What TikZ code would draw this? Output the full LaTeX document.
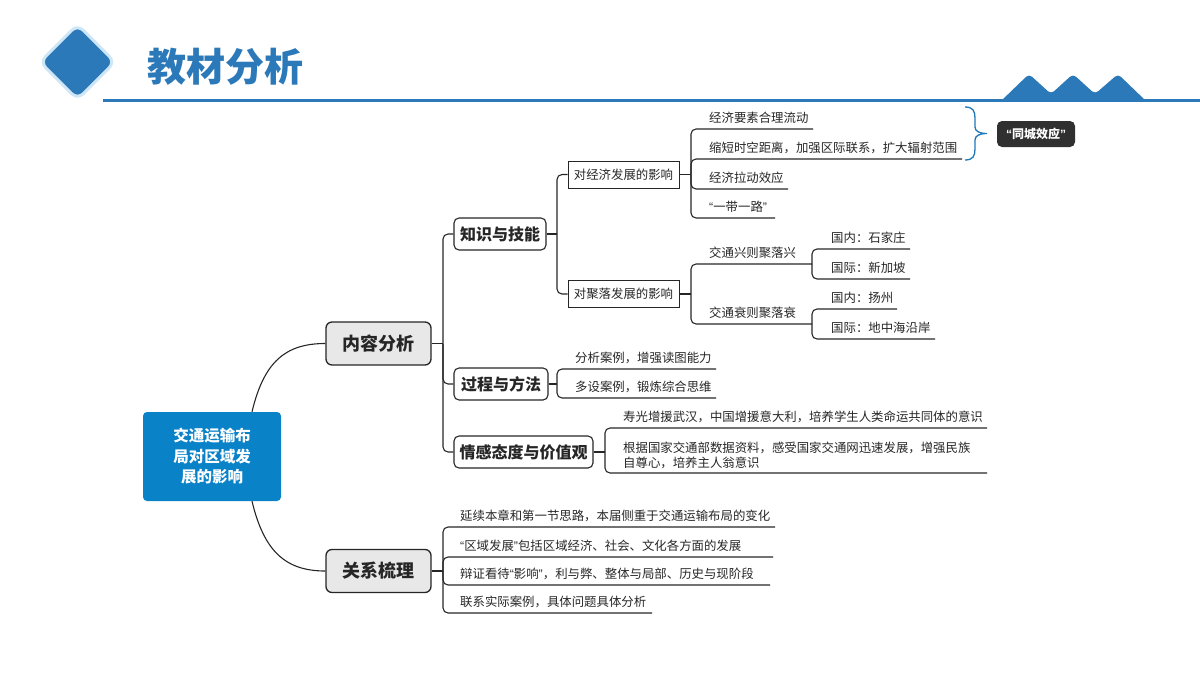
\documentclass[tikz,border=0pt]{standalone}
\usepackage{fontspec}
\setmainfont{Noto Sans CJK SC}
\newfontfamily\qfont{Liberation Sans}
\newcommand{\qopen}{{\qfont “}}
\newcommand{\qclose}{{\qfont ”}}
\usetikzlibrary{calc}
\definecolor{hblue}{HTML}{2B79B8}
\definecolor{hlight}{HTML}{CFE6F6}
\definecolor{cblue}{HTML}{0A82C8}
\definecolor{bgray}{HTML}{E8E8E8}
\definecolor{ink}{HTML}{262626}
\definecolor{brblue}{HTML}{1E78B8}
\definecolor{darkbox}{HTML}{303030}
\begin{document}
\begin{tikzpicture}[x=1pt,y=-1pt,
 br/.style={draw=ink,line width=1.1pt,rounded corners=5pt},
 leaf/.style={anchor=base west,inner sep=0pt,font=\fontsize{12.4}{15}\selectfont,text=ink},
 lvlone/.style={draw=ink,fill=bgray,line width=1.3pt,rounded corners=6pt,minimum width=105pt,minimum height=43pt,inner sep=0pt,font=\bfseries\fontsize{18}{20}\selectfont,text=ink},
 lvltwo/.style={draw=ink,fill=white,line width=1.1pt,rounded corners=5pt,minimum height=32pt,inner sep=0pt,font=\bfseries\fontsize{16}{18}\selectfont,text=ink},
 lvlthree/.style={draw=ink,fill=white,line width=0.9pt,minimum height=27pt,minimum width=111pt,inner sep=0pt,font=\fontsize{12.4}{14}\selectfont,text=ink}
]
\useasboundingbox (0,0) rectangle (1200,675);

% header
\node[rotate=45,fill=hblue,draw=hlight,line width=3pt,rounded corners=8pt,minimum size=53pt,inner sep=0pt] (dia) at (77.5,62) {};
\node[anchor=west,text=hblue,font=\bfseries\fontsize{39}{40}\selectfont,inner sep=0pt] (title) at (147,67) {教材分析};
\draw[hblue,line width=3pt] (103,100.5) -- (1200,100.5);
\fill[hblue] (1001,101) [rounded corners=4pt] -- (1029,74) -- (1051,94) -- (1073,74) -- (1095,94) -- (1118,74) [sharp corners] -- (1146,101) -- cycle;

% central
\node[fill=cblue,rounded corners=4pt,minimum width=138pt,minimum height=89pt,align=center,text=white,font=\bfseries\fontsize{15.5}{20.5}\selectfont,inner sep=0pt] (c) at (212,456.5) {交通运输布\\局对区域发\\展的影响};

% level one
\node[lvlone] (nr) at (378.5,343.5) {内容分析};
\node[lvlone] (gx) at (378.5,571) {关系梳理};
\draw[ink,line width=1.1pt] ($(c.north)+(40,0)$) .. controls +(12,-50) and +(-40,0) .. (nr.west);
\draw[ink,line width=1.1pt] ($(c.south)+(40,0)$) .. controls +(12,50) and +(-40,0) .. (gx.west);

% level two
\node[lvltwo,minimum width=92pt] (zs) at (500,234) {知识与技能};
\node[lvltwo,minimum width=94pt] (gc) at (501,384) {过程与方法};
\node[lvltwo,minimum width=139pt] (qg) at (523.5,452) {情感态度与价值观};
\coordinate (t1) at (443,343.5);
\draw[br] (nr.east) -- (t1);
\draw[br] (t1) |- (zs.west);
\draw[br] (t1) |- (gc.west);
\draw[br] (t1) |- (qg.west);

% level three
\node[lvlthree] (je) at (623.5,174.5) {对经济发展的影响};
\node[lvlthree] (jl) at (623.5,294) {对聚落发展的影响};
\coordinate (t3) at (557,234);
\draw[br] (zs.east) -- (t3);
\draw[br] (t3) |- (je.west);
\draw[br] (t3) |- (jl.west);

% economy leaves
\coordinate (t4) at (691,174.5);
\draw[br] (je.east) -- (t4);
\node[leaf] (a1) at (709,122.5) {经济要素合理流动};
\node[leaf] (a2) at (709,152.5) {缩短时空距离，加强区际联系，扩大辐射范围};
\node[leaf] (a3) at (709,182.5) {经济拉动效应};
\node[leaf] (a4) at (709,211.5) {\qopen 一带一路\qclose};
\coordinate (a1e) at (813,129);
\coordinate (a2e) at (962,159);
\coordinate (a3e) at (788,189);
\coordinate (a4e) at (775,218);
\draw[br] (t4) |- (a1e);
\draw[br] (t4) |- (a2e);
\draw[br] (t4) |- (a3e);
\draw[br] (t4) |- (a4e);

% brace and note
\draw[brblue,line width=1.3pt] (965,107) .. controls (973,107) and (975,111) .. (975,118) -- (975,127) .. controls (975,131) and (979,133.5) .. (987,133.5) .. controls (979,133.5) and (975,136) .. (975,140) -- (975,149) .. controls (975,156) and (973,160) .. (965,160);
\node[fill=darkbox,rounded corners=5pt,minimum width=78pt,minimum height=26pt,inner sep=0pt,text=white,font=\bfseries\fontsize{12}{14}\selectfont] (tc) at (1036,134) {\qopen 同城效应\qclose};

% settlement leaves
\coordinate (t5) at (691,294);
\draw[br] (jl.east) -- (t5);
\node[leaf] (b1) at (709,257.5) {交通兴则聚落兴};
\node[leaf] (b2) at (709,317.5) {交通衰则聚落衰};
\coordinate (b1e) at (812,264);
\coordinate (b2e) at (812,324);
\draw[br] (t5) |- (b1e);
\draw[br] (t5) |- (b2e);
\node[leaf] (c1) at (831,242.5) {国内：石家庄};
\node[leaf] (c2) at (831,272.5) {国际：新加坡};
\node[leaf] (c3) at (831,302.5) {国内：扬州};
\node[leaf] (c4) at (831,332.5) {国际：地中海沿岸};
\coordinate (c1e) at (910,249);
\coordinate (c2e) at (910,279);
\coordinate (c3e) at (897,309);
\coordinate (c4e) at (935,339);
\draw[br] (b1e) |- (c1e);
\draw[br] (b1e) |- (c2e);
\draw[br] (b2e) |- (c3e);
\draw[br] (b2e) |- (c4e);

% process leaves
\coordinate (t6) at (557,384);
\draw[br] (gc.east) -- (t6);
\node[leaf] (d1) at (575,362) {分析案例，增强读图能力};
\node[leaf] (d2) at (575,391) {多设案例，锻炼综合思维};
\coordinate (d1e) at (716,369);
\coordinate (d2e) at (716,398);
\draw[br] (t6) |- (d1e);
\draw[br] (t6) |- (d2e);

% attitude leaves
\coordinate (t7) at (605,452);
\draw[br] (qg.east) -- (t7);
\node[leaf] (e1) at (623,421.5) {寿光增援武汉，中国增援意大利，培养学生人类命运共同体的意识};
\node[leaf] (e2) at (623,452.5) {根据国家交通部数据资料，感受国家交通网迅速发展，增强民族};
\node[leaf] (e3) at (623,467.5) {自尊心，培养主人翁意识};
\coordinate (e1e) at (987,428);
\coordinate (e2e) at (987,473);
\draw[br] (t7) |- (e1e);
\draw[br] (t7) |- (e2e);

% relation leaves
\coordinate (t2) at (443,571);
\draw[br] (gx.east) -- (t2);
\node[leaf] (f1) at (460,520) {延续本章和第一节思路，本届侧重于交通运输布局的变化};
\node[leaf] (f2) at (460,550) {\qopen 区域发展\qclose 包括区域经济、社会、文化各方面的发展};
\node[leaf] (f3) at (460,578) {辩证看待\qopen 影响\qclose ，利与弊、整体与局部、历史与现阶段};
\node[leaf] (f4) at (460,606) {联系实际案例，具体问题具体分析};
\coordinate (f1e) at (775,527);
\coordinate (f2e) at (773,557);
\coordinate (f3e) at (770,585);
\coordinate (f4e) at (652,613);
\draw[br] (t2) |- (f1e);
\draw[br] (t2) |- (f2e);
\draw[br] (t2) |- (f3e);
\draw[br] (t2) |- (f4e);
\end{tikzpicture}
\end{document}
